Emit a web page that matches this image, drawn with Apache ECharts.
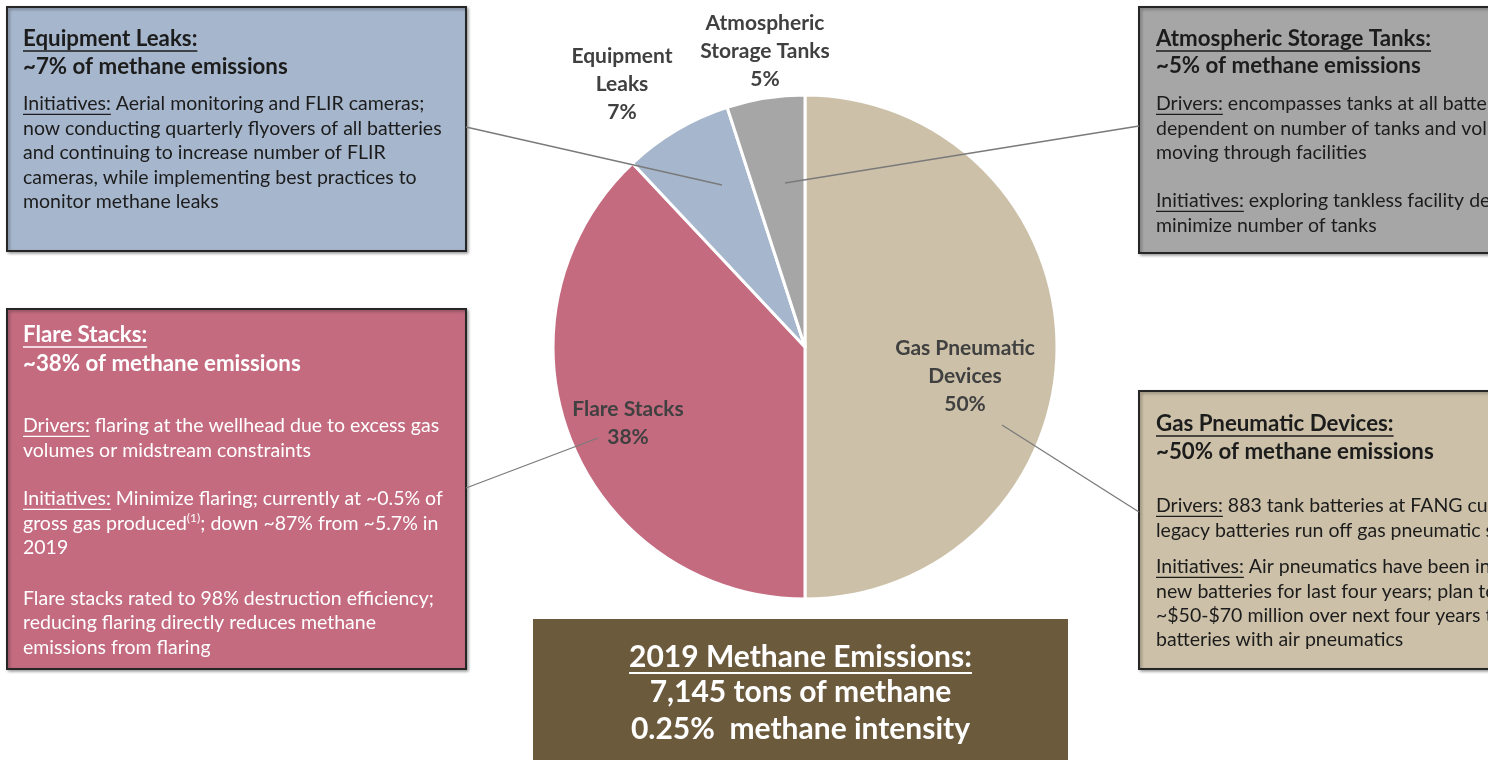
<!DOCTYPE html>
<html><head><meta charset="utf-8">
<script src="https://cdn.jsdelivr.net/npm/echarts@6/dist/echarts.min.js"></script>
<style>html,body{margin:0;padding:0;background:#fff}#c{width:1488px;height:760px}</style>
</head><body><div id="c"></div><script>
// ---------- DATA ----------
const categories = ['Gas Pneumatic Devices', 'Flare Stacks', 'Equipment Leaks', 'Atmospheric Storage Tanks'];
const shares = [50, 38, 7, 5];
const sliceLabels = ['Gas Pneumatic\nDevices', 'Flare Stacks', 'Equipment\nLeaks', 'Atmospheric\nStorage Tanks'];

const equipTitle = 'Equipment Leaks:';
const equipShare = '~7% of methane emissions';
const equipBody = [
  [{t:'Initiatives:', u:1}, {t:' Aerial monitoring and FLIR cameras;'}],
  [{t:'now conducting quarterly flyovers of all batteries'}],
  [{t:'and continuing to increase number of FLIR'}],
  [{t:'cameras, while implementing best practices to'}],
  [{t:'monitor methane leaks'}]
];
const tankTitle = 'Atmospheric Storage Tanks:';
const tankShare = '~5% of methane emissions';
const tankBody = [
  [{t:'Drivers:', u:1}, {t:' encompasses tanks at all batteries;'}],
  [{t:'dependent on number of tanks and volumes'}],
  [{t:'moving through facilities'}],
  [{t:'Initiatives:', u:1}, {t:' exploring tankless facility designs to'}],
  [{t:'minimize number of tanks'}]
];
const flareTitle = 'Flare Stacks:';
const flareShare = '~38% of methane emissions';
const flareBody = [
  [{t:'Drivers:', u:1}, {t:' flaring at the wellhead due to excess gas'}],
  [{t:'volumes or midstream constraints'}],
  [{t:'Initiatives:', u:1}, {t:' Minimize flaring; currently at ~0.5% of'}],
  [{t:'gross gas produced'}, {t:'(1)', sup:1}, {t:'; down ~87% from ~5.7% in'}],
  [{t:'2019'}],
  [{t:'Flare stacks rated to 98% destruction efficiency;'}],
  [{t:'reducing flaring directly reduces methane'}],
  [{t:'emissions from flaring'}]
];
const gasTitle = 'Gas Pneumatic Devices:';
const gasShare = '~50% of methane emissions';
const gasBody = [
  [{t:'Drivers:', u:1}, {t:' 883 tank batteries at FANG currently;'}],
  [{t:'legacy batteries run off gas pneumatic systems'}],
  [{t:'Initiatives:', u:1}, {t:' Air pneumatics have been installed at'}],
  [{t:'new batteries for last four years; plan to spend'}],
  [{t:'~$50-$70 million over next four years to retrofit'}],
  [{t:'batteries with air pneumatics'}]
];
const summaryTitle = '2019 Methane Emissions:';
const summaryTons = '7,145 tons of methane';
const summaryIntensity = '0.25%  methane intensity';

// ---------- STYLE / LAYOUT ----------
const sliceColors = ['#ccc0a8', '#c46b80', '#a6b6cc', '#a6a6a6'];
const FONT = 'Lato, "Open Sans", sans-serif';
const CX = 805, CY = 347, R = 252;

const mctx = document.createElement('canvas').getContext('2d');
function measure(t, font) { mctx.font = font; return mctx.measureText(t).width; }
const elements = [];

function addText(x, y, segs, size, bold, color, align) {
  const fontOf = (s) => (bold ? 'bold ' : '') + s + 'px ' + FONT;
  const widths = segs.map(g => measure(g.t, fontOf(g.sup ? size * 0.62 : size)));
  const total = widths.reduce((a, b) => a + b, 0);
  let cx = align === 'center' ? x - total / 2 : x;
  segs.forEach((g, i) => {
    const s = g.sup ? size * 0.62 : size;
    elements.push({type:'text', z:110, style:{text:g.t, x:cx, y: g.sup ? y - size*0.3 : y, font:fontOf(s), fill:color, textAlign:'left', textVerticalAlign:'middle'}});
    if (g.u) elements.push({type:'rect', z:110, shape:{x:cx, y:y + size*0.5, width:widths[i], height:Math.max(1.3, size/15)}, style:{fill:color}});
    cx += widths[i];
  });
}
function addBox(x, y, w, h, fill, border) {
  elements.push({type:'rect', z:100, shape:{x, y, width:w, height:h},
    style:{fill, stroke: border ? '#262626' : null, lineWidth: border ? 2 : 0,
      shadowBlur: border ? 3 : 0, shadowOffsetX: border ? 1.5 : 0, shadowOffsetY: border ? 1.5 : 0, shadowColor:'rgba(0,0,0,0.35)'}});
}
function addLeader(x1, y1, dx, dy) {
  elements.push({type:'line', z:105, shape:{x1, y1, x2:CX + dx, y2:CY + dy}, style:{stroke:'#7a7a7a', lineWidth:1.3}});
}
const BODY = 19.5, HEAD = 22.3, SHARE = 22.3, SUM = 30;
const DARK = '#1c1c1c', WHITE = '#ffffff';

// Equipment Leaks box
addBox(7, 7, 459, 244, sliceColors[2], true);
addText(23, 39, [{t:equipTitle, u:1}], HEAD, true, DARK);
addText(23, 67, [{t:equipShare}], SHARE, true, DARK);
[104, 128.5, 153, 177.5, 202].forEach((y, i) => addText(23, y, equipBody[i], BODY, false, DARK));

// Atmospheric Storage Tanks box
addBox(1139, 7, 420, 246, sliceColors[3], true);
addText(1156, 39, [{t:tankTitle, u:1}], HEAD, true, DARK);
addText(1156, 66, [{t:tankShare}], SHARE, true, DARK);
[104, 128.5, 153, 201, 226].forEach((y, i) => addText(1156, y, tankBody[i], BODY, false, DARK));

// Flare Stacks box
addBox(7, 309, 459, 360, sliceColors[1], true);
addText(23, 335, [{t:flareTitle, u:1}], HEAD, true, WHITE);
addText(23, 364, [{t:flareShare}], SHARE, true, WHITE);
[426, 450.5, 499, 523.5, 548, 598.5, 623, 647.5].forEach((y, i) => addText(23, y, flareBody[i], BODY, false, WHITE));

// Gas Pneumatic Devices box
addBox(1139, 391, 420, 278, sliceColors[0], true);
addText(1156, 424, [{t:gasTitle, u:1}], HEAD, true, DARK);
addText(1156, 452, [{t:gasShare}], SHARE, true, DARK);
[506, 530.5, 567, 591.5, 616, 640].forEach((y, i) => addText(1156, y, gasBody[i], BODY, false, DARK));

// Summary box
addBox(533, 619, 535, 160, '#6b5a3c', false);
addText(800.5, 657, [{t:summaryTitle, u:1}], SUM, true, WHITE, 'center');
addText(800.5, 692, [{t:summaryTons}], SUM, true, WHITE, 'center');
addText(800.5, 729, [{t:summaryIntensity}], SUM, true, WHITE, 'center');

// Leader lines (box edge -> point inside slice, relative to pie centre)
addLeader(466, 127, -83, -162);
addLeader(1139, 126, -20, -164);
addLeader(466, 488, -207, 91);
addLeader(1139, 512, 197, 78);

const labelOffsets = [[160, 29], [-177, 76], [-183, -263], [-40, -296]];

const chart = echarts.init(document.getElementById('c'), null, {renderer:'canvas'});
chart.setOption({
  animation: false,
  backgroundColor: '#ffffff',
  series: [{
    type: 'pie',
    center: [CX, CY],
    radius: R,
    startAngle: 90,
    clockwise: true,
    z: 2,
    itemStyle: {borderColor: '#ffffff', borderWidth: 3},
    label: {
      show: true,
      formatter: (p) => sliceLabels[p.dataIndex] + '\n' + p.value + '%',
      fontFamily: FONT, fontWeight: 'bold', fontSize: 21, lineHeight: 28,
      color: '#404040', align: 'center'
    },
    labelLine: {show: false},
    labelLayout: (p) => ({x: CX + labelOffsets[p.dataIndex][0], y: CY + labelOffsets[p.dataIndex][1], align: 'center', verticalAlign: 'middle'}),
    emphasis: {disabled: true},
    data: categories.map((c, i) => ({name: c, value: shares[i], itemStyle: {color: sliceColors[i]}}))
  }],
  graphic: {elements}
});
</script></body></html>
